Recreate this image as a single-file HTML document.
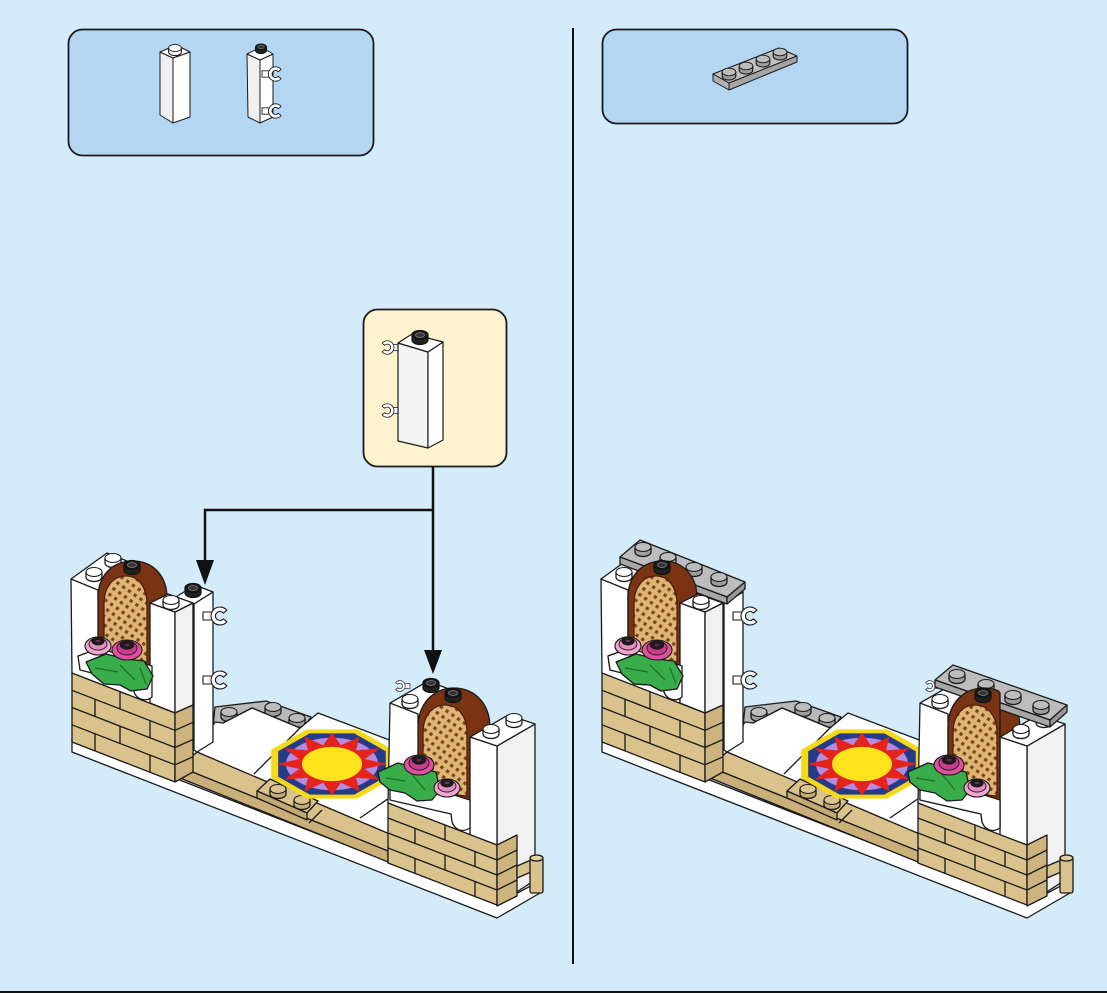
<!DOCTYPE html>
<html><head><meta charset="utf-8"><title>Build step</title>
<style>html,body{margin:0;padding:0;background:#d4ebfa;overflow:hidden}svg{display:block}</style>
</head><body>
<svg width="1107" height="993" viewBox="0 0 1107 993" xmlns="http://www.w3.org/2000/svg" xmlns:xlink="http://www.w3.org/1999/xlink">
<defs>
<g id="sW"><path d="M-8,0V5A8,4.5 0 0 0 8,5V0" fill="#fff" stroke="#1a1a1a" stroke-width="1.3"/><ellipse rx="8" ry="4.5" fill="#fff" stroke="#1a1a1a" stroke-width="1.1"/></g>
<g id="sK"><path d="M-8,0V5A8,4.5 0 0 0 8,5V0" fill="#222" stroke="#111" stroke-width="1.2"/><ellipse rx="8" ry="4.5" fill="#1a1a1a" stroke="#111"/><ellipse rx="4.5" ry="2.4" fill="#333" stroke="#8a8a8a" stroke-width="0.8"/></g>
<g id="sG"><path d="M-8,0V5A8,4.5 0 0 0 8,5V0" fill="#9e9e9e" stroke="#1a1a1a" stroke-width="1.3"/><ellipse rx="8" ry="4.5" fill="#bdbdbd" stroke="#1a1a1a" stroke-width="1.1"/></g>
<g id="sT"><path d="M-8,0V5A8,4.5 0 0 0 8,5V0" fill="#c6ad74" stroke="#1a1a1a" stroke-width="1.3"/><ellipse rx="8" ry="4.5" fill="#dcc48e" stroke="#1a1a1a" stroke-width="1.1"/></g>
<g id="clipR" stroke="#1a1a1a" stroke-width="1.1" stroke-linejoin="round" fill="#fff">
<rect x="0" y="6" width="10" height="8"/>
<path d="M23.9,4.2 A9,9 0 1 0 23.9,15.8 L20.4,12.9 A4.5,4.5 0 1 1 20.4,7.1 Z"/>
</g>
<pattern id="lat" width="7" height="7" patternUnits="userSpaceOnUse" patternTransform="rotate(35)"><rect width="7" height="7" fill="#dfb477"/><rect x="2.5" y="2.5" width="3.2" height="3.2" fill="#7a4418"/></pattern>
<g id="roseD"><ellipse cx="0" cy="2" rx="15" ry="10" fill="#e0509f" stroke="#1a1a1a" stroke-width="1.1"/><ellipse cx="0" cy="0" rx="10" ry="7" fill="#c93c8c" stroke="#1a1a1a" stroke-width="0.9"/><ellipse cx="0" cy="-3" rx="6.5" ry="4" fill="#1e1e1e"/><ellipse cx="0" cy="-3" rx="3.5" ry="2" fill="#6a2550"/></g>
<g id="roseL"><ellipse cx="0" cy="2" rx="13" ry="9" fill="#f0a6cf" stroke="#1a1a1a" stroke-width="1.1"/><ellipse cx="0" cy="0" rx="9" ry="6" fill="#e58cc0" stroke="#1a1a1a" stroke-width="0.9"/><ellipse cx="0" cy="-3" rx="6" ry="3.8" fill="#1e1e1e"/><ellipse cx="0" cy="-3" rx="3.2" ry="1.9" fill="#6a3550"/></g>
</defs>

<rect width="1107" height="993" fill="#d4ebfa"/>

<!-- parts boxes -->
<rect x="68.5" y="29.5" width="305" height="126" rx="14" fill="#b3d7f2" stroke="#1a1a1a" stroke-width="1.8"/>
<rect x="602.5" y="29.5" width="305" height="94" rx="14" fill="#b3d7f2" stroke="#1a1a1a" stroke-width="1.8"/>
<line x1="573" y1="28" x2="573" y2="964" stroke="#111" stroke-width="2"/>
<rect x="0" y="991" width="1107" height="2" fill="#111"/>

<!-- parts in box 1 -->
<g stroke="#1a1a1a" stroke-width="1" stroke-linejoin="round">
<path d="M160,52 L173,58 L173,123 L160,115 Z" fill="#f0f0f0"/>
<path d="M173,58 L190,52 L190,117 L173,123 Z" fill="#fff"/>
<path d="M160,52 L176,45 L190,52 L173,58 Z" fill="#fff"/>
<g transform="translate(175,48) scale(0.8)"><use href="#sW"/></g>
<path d="M247,54 L260,60 L260,123 L248,117 Z" fill="#f0f0f0"/>
<path d="M260,60 L273,54 L273,117 L260,123 Z" fill="#fff"/>
<path d="M247,54 L261,47 L273,54 L260,60 Z" fill="#fff"/>
<g transform="translate(261,47) scale(0.7)"><use href="#sK"/></g>
<use href="#clipR" transform="translate(262,66) scale(0.8)"/>
<use href="#clipR" transform="translate(262,103) scale(0.8)"/>
</g>

<!-- part in box 2 -->
<g stroke="#1a1a1a" stroke-width="1" stroke-linejoin="round">
<path d="M713,74 L779,48 L797,56 L729,83 Z" fill="#c2c2c2"/>
<path d="M729,83 L797,56 L797,62 L729,90 Z" fill="#a5a5a5"/>
<path d="M713,74 L729,83 L729,90 L713,81 Z" fill="#b0b0b0"/>
<g transform="translate(729,72) scale(0.85)"><use href="#sG"/></g>
<g transform="translate(746,66) scale(0.85)"><use href="#sG"/></g>
<g transform="translate(763,59) scale(0.85)"><use href="#sG"/></g>
<g transform="translate(780,52) scale(0.85)"><use href="#sG"/></g>
</g>

<!-- callout -->
<rect x="363.5" y="309.5" width="143" height="157" rx="14" fill="#fdf3cf" stroke="#1a1a1a" stroke-width="1.8"/>
<g stroke="#1a1a1a" stroke-width="1.2" stroke-linejoin="round">
<use href="#clipR" transform="translate(400,340) scale(-0.75,0.75)"/>
<use href="#clipR" transform="translate(400,403) scale(-0.75,0.75)"/>
<path d="M398,343 L428,352 L428,448 L398,441 Z" fill="#f4f4f4"/>
<path d="M428,352 L443,342 L443,440 L428,448 Z" fill="#fff"/>
<path d="M398,343 L412,334 L443,342 L428,352 Z" fill="#fff"/>
<use href="#sK" x="420" y="335"/>
</g>

<!-- arrows -->
<path d="M433,467 V510 H205 V562 M433,510 V652" fill="none" stroke="#111" stroke-width="2.5"/>
<polygon points="196,560 214,560 205,585" fill="#111"/>
<polygon points="424,650 442,650 433,674" fill="#111"/>

<!-- MODEL -->
<g id="model" stroke="#1a1a1a" stroke-width="1.3" stroke-linejoin="round">
<path d="M72,738 L497,904 L540,881 L540,893 L497,918 L72,752 Z" fill="#fff"/>
<path d="M213,726 L215,707 L266,701 L311,717 L303,729 L252,708 L223,723 Z" fill="#b9b9b9"/>
<use href="#sG" x="229" y="712"/>
<use href="#sG" x="273" y="707"/>
<use href="#sG" x="297" y="718"/>
<path d="M197,752 L215,722 L223,723 L252,708 L300,728 L318,713 L392,741 L392,838 Z" fill="#fff"/>
<path d="M254,774 L300,728 M360,818 L392,796" fill="none"/>
<path d="M180,767 L197,752 L392,835 L388,851 Z" fill="#d9c28c"/>
<path d="M180,767 L388,851 L388,862 L180,778 Z" fill="#c9af78"/>
<path d="M309,823 L322,810" fill="none"/>
<path d="M257,791 L270,779 L318,801 L307,813 Z" fill="#d9c28c"/>
<path d="M257,791 L307,813 L307,820 L257,798 Z" fill="#c4aa72"/>
<use href="#sT" x="278" y="789"/>
<use href="#sT" x="302" y="800"/>
<g transform="translate(332,764) scale(1,0.57)" stroke="none">
<polygon points="57.3,23.7 23.7,57.3 -23.7,57.3 -57.3,23.7 -57.3,-23.7 -23.7,-57.3 23.7,-57.3 57.3,-23.7" fill="#273a8a" stroke="#f3d91a" stroke-width="7"/>
<circle r="46" fill="#b48be0"/>
<polygon points="55,0 32.8,8.8 47.6,27.5 24,24 27.5,47.6 8.8,32.8 0,55 -8.8,32.8 -27.5,47.6 -24,24 -47.6,27.5 -32.8,8.8 -55,0 -32.8,-8.8 -47.6,-27.5 -24,-24 -27.5,-47.6 -8.8,-32.8 0,-55 8.8,-32.8 27.5,-47.6 24,-24 47.6,-27.5 32.8,-8.8" fill="#e5231d"/>
<circle r="31" fill="#fde21c" stroke="#e5231d" stroke-width="2"/>
</g>

<!-- left tower -->
<path d="M71,579 L107,553 L152,571 L152,705 L98,684 L72,674 Z" fill="#fff"/>
<path d="M71,579 L98,590 L98,600" fill="none"/>
<use href="#sW" x="94" y="572"/>
<use href="#sW" x="113" y="558"/>
<path d="M176,597 L195,585 L213,592 L194,604 Z" fill="#fff"/>
<path d="M194,604 L213,592 L213,742 L197,752 L194,750 Z" fill="#fff"/>
<use href="#sK" x="193" y="588"/>
<use href="#clipR" transform="translate(203,606)"/>
<use href="#clipR" transform="translate(203,670)"/>
<path id="archL" d="M98,662 L98,598 C98,576 112,561 133,561 C153,561 167,576 167,598 L167,668 Z" fill="#7a3414"/>
<path id="latL" d="M104,657 L104,604 C104,587 113,576 126,576 C139,576 147,588 147,604 L147,662 Z" fill="url(#lat)" stroke="#4a2008"/>
<use href="#sK" x="132" y="565"/>
<g id="fcolL">
<path d="M150,603 L175,612 L175,713 L150,703 Z" fill="#fff"/>
<path d="M175,612 L193,603 L193,705 L175,713 Z" fill="#f1f1f1"/>
<path d="M150,603 L168,594 L193,603 L175,612 Z" fill="#fff"/>
<use href="#sW" x="171" y="600"/>
</g>
<g id="flwL">
<path d="M78,656 L100,648 L152,666 L152,697 C146,702 137,700 134,692 L133,683 L80,670 Z" fill="#fff"/>
<path d="M86,662 L106,654 L126,659 L144,661 L153,676 L147,689 L131,691 L120,685 L104,684 L92,674 Z" fill="#3aad4b"/>
<path d="M95,668 L118,672 M120,665 L135,680 M140,668 L146,684" fill="none" stroke="#1d6e2e"/>
<use href="#roseL" x="98" y="644"/>
<use href="#roseD" x="127" y="648"/>
</g>
<path d="M72,673 L175,713 L175,782 L72,742 Z" fill="#d9c28c"/>
<path d="M175,713 L193,705 L193,772 L175,782 Z" fill="#cdb47e"/>
<path d="M72,690.3 L175,730.3 M72,707.5 L175,747.5 M72,724.8 L175,764.8 M175,730.3 L193,722.3 M175,747.5 L193,739.5 M175,764.8 L193,756.8 M120,691.6 V708.9 M95,699.1 V716.4 M150,720.5 V737.8 M120,726.1 V743.4 M95,733.6 V750.9 M150,755 V772.3" fill="none"/>

<!-- right tower -->
<path d="M390,703 L428,681 L472,698 L472,836 L418,815 L388,803 Z" fill="#fff"/>
<path d="M390,703 L418,714 L418,724" fill="none"/>
<use href="#clipR" transform="translate(410,680) scale(-0.6,0.6)"/>
<use href="#sW" x="410" y="699"/>
<use href="#sK" x="431" y="683"/>
<path id="archR" d="M418,797 L418,728 C418,704 433,688 454,688 C475,688 490,704 490,728 L490,802 Z" fill="#7a3414"/>
<path id="latR" d="M423,792 L423,733 C423,715 433,705 445,705 C458,705 467,716 467,733 L467,796 Z" fill="url(#lat)" stroke="#4a2008"/>
<use href="#sK" x="453" y="693"/>
<path d="M497,746 L535,724 L535,880 L497,905 Z" fill="#f1f1f1"/>
<path d="M470,737 L497,746 L497,845 L470,835 Z" fill="#fff"/>
<path d="M470,737 L508,715 L535,724 L497,746 Z" fill="#fff"/>
<use href="#sW" x="491" y="729"/>
<use href="#sW" x="514" y="718"/>
<g id="flwR">
<path d="M390,788 L410,781 L470,800 L470,828 C462,833 455,830 452,822 L451,814 L390,800 Z" fill="#fff"/>
<path d="M378,772 L398,763 L418,768 L436,772 L440,790 L432,800 L417,801 L405,793 L390,790 L380,782 Z" fill="#3aad4b"/>
<path d="M386,778 L405,781 M410,772 L425,790" fill="none" stroke="#1d6e2e"/>
<use href="#roseD" x="419" y="763"/>
<use href="#roseL" x="447" y="786"/>
</g>
<path d="M388,803 L497,845 L497,905 L388,863 Z" fill="#d9c28c"/>
<path d="M497,845 L517,835 L517,896 L497,906 Z" fill="#cdb47e"/>
<path d="M388,818 L497,860 M388,833 L497,875 M388,848 L497,890 M497,860 L517,850 M497,875 L517,865 M497,890 L517,880 M445,825 V840 M415,828.4 V843.4 M475,851.5 V866.5 M445,855 V870 M415,858.4 V873.4 M475,881.5 V896.5" fill="none"/>
<path d="M517,866 L531,860 L531,872 L517,878 Z" fill="#d9c28c"/>
<rect x="530" y="858" width="13" height="35" rx="2" fill="#d9c28c"/>
<ellipse cx="536.5" cy="858" rx="6.5" ry="3" fill="#e3cf9f"/>
</g>

<!-- right model copy -->
<use href="#model" x="530"/>

<!-- right model additions: gray plates -->
<g stroke="#1a1a1a" stroke-width="1.3" stroke-linejoin="round">
<path d="M620,557 L640,540 L745,582 L727,597 Z" fill="#bdbdbd"/>
<path d="M620,557 L727,597 L727,604 L620,564 Z" fill="#a7a7a7"/>
<path d="M727,597 L745,582 L745,589 L727,604 Z" fill="#999"/>
<use href="#sG" x="643" y="547"/>
<use href="#sG" x="668" y="557"/>
<use href="#sG" x="694" y="567"/>
<use href="#sG" x="719" y="577"/>
<use href="#archL" x="530"/>
<use href="#latL" x="530"/>
<use href="#sK" x="662" y="565"/>
<use href="#fcolL" x="530"/>
<use href="#flwL" x="530"/>
<path d="M935,680 L953,665 L1067,705 L1050,720 Z" fill="#bdbdbd"/>
<path d="M935,680 L1050,720 L1050,727 L935,687 Z" fill="#a7a7a7"/>
<path d="M1050,720 L1067,705 L1067,712 L1050,727 Z" fill="#999"/>
<use href="#sG" x="957" y="674"/>
<use href="#sG" x="986" y="684"/>
<use href="#sG" x="1013" y="695"/>
<use href="#sG" x="1041" y="705"/>
<path d="M948,797 L948,728 C948,704 963,688 984,688 C993,688 1000,691 1000,693 L1000,800 Z" fill="#7a3414"/>
<use href="#latR" x="530"/>
<use href="#sK" x="983" y="693"/>
<use href="#flwR" x="530"/>
<use href="#sW" x="1021" y="729"/>
</g>
</svg>
</body></html>
